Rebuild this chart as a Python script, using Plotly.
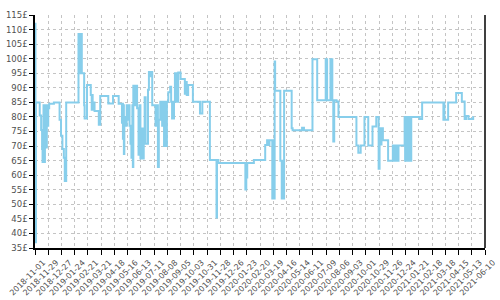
import plotly.graph_objects as go

dates = [
    "2018-11-01", "2018-11-02", "2018-11-03", "2018-11-11", "2018-11-14", "2018-11-16", "2018-11-17",
    "2018-11-19", "2018-11-20", "2018-11-22", "2018-11-23", "2018-11-24", "2018-11-25", "2018-11-26",
    "2018-11-28", "2018-11-29", "2018-12-01", "2018-12-11", "2018-12-23", "2018-12-26", "2018-12-29",
    "2019-01-01", "2019-01-03", "2019-01-06", "2019-02-01", "2019-02-02", "2019-02-03", "2019-02-05",
    "2019-02-06", "2019-02-08", "2019-02-13", "2019-02-14", "2019-02-19", "2019-02-27", "2019-03-01",
    "2019-03-02", "2019-03-03", "2019-03-05", "2019-03-07", "2019-03-16", "2019-03-19", "2019-04-05",
    "2019-04-15", "2019-04-27", "2019-05-04", "2019-05-05", "2019-05-06", "2019-05-07", "2019-05-08",
    "2019-05-09", "2019-05-11", "2019-05-14", "2019-05-16", "2019-05-18", "2019-05-20", "2019-05-22",
    "2019-05-24", "2019-05-26", "2019-05-27", "2019-05-28", "2019-05-31", "2019-06-02", "2019-06-05",
    "2019-06-08", "2019-06-10", "2019-06-12", "2019-06-14", "2019-06-17", "2019-06-19", "2019-06-21",
    "2019-06-23", "2019-06-28", "2019-06-30", "2019-07-03", "2019-07-05", "2019-07-07", "2019-07-14",
    "2019-07-17", "2019-07-19", "2019-07-21", "2019-07-24", "2019-07-28", "2019-07-30", "2019-08-01",
    "2019-08-03", "2019-08-05", "2019-08-07", "2019-08-10", "2019-08-14", "2019-08-16", "2019-08-18",
    "2019-08-22", "2019-08-24", "2019-08-28", "2019-08-31", "2019-09-05", "2019-09-14", "2019-09-16",
    "2019-09-18", "2019-09-21", "2019-10-01", "2019-10-16", "2019-10-21", "2019-11-06", "2019-11-20",
    "2019-11-21", "2019-11-24", "2020-01-20", "2020-01-22", "2020-01-24", "2020-02-07", "2020-03-02",
    "2020-03-06", "2020-03-09", "2020-03-11", "2020-03-17", "2020-03-19", "2020-03-20", "2020-03-22",
    "2020-03-23", "2020-04-03", "2020-04-06", "2020-04-08", "2020-04-10", "2020-04-11", "2020-04-27",
    "2020-04-29", "2020-05-19", "2020-05-23", "2020-06-10", "2020-06-20", "2020-07-08", "2020-07-11",
    "2020-07-18", "2020-07-22", "2020-07-24", "2020-07-26", "2020-07-31", "2020-08-04", "2020-09-11",
    "2020-09-15", "2020-09-20", "2020-09-28", "2020-10-06", "2020-10-15", "2020-10-23", "2020-10-28",
    "2020-10-30", "2020-11-01", "2020-11-03", "2020-11-06", "2020-11-17", "2020-11-27", "2020-11-29",
    "2020-12-01", "2020-12-03", "2020-12-05", "2020-12-07", "2020-12-09", "2020-12-22", "2020-12-23",
    "2020-12-24", "2020-12-25", "2020-12-26", "2020-12-27", "2020-12-28", "2020-12-29", "2020-12-30",
    "2020-12-31", "2021-01-01", "2021-01-02", "2021-01-03", "2021-01-04", "2021-01-05", "2021-01-23",
    "2021-01-28", "2021-03-14", "2021-03-15", "2021-03-16", "2021-03-24", "2021-04-10", "2021-04-22",
    "2021-04-28", "2021-05-01", "2021-05-06", "2021-05-16", "2021-05-17",
]

prices = [
    112, 37, 85, 80.5, 75.5, 69, 64.5,
    84, 64.5, 84, 77, 84, 69.5, 84,
    77, 83, 84.5, 85, 79, 73.5, 69,
    66, 58, 85, 108.5, 95, 108.5, 95,
    108.5, 95, 84, 79.5, 91, 87.5, 82.5,
    87.5, 82.5, 85, 82, 77.3, 87.2, 84.6,
    87.2, 84.5, 78, 84.5, 72.5, 84, 67.3,
    80, 77, 84, 79, 84, 77, 70.8,
    66, 84, 62.8, 90.7, 84, 90.7, 83,
    67, 84, 65.7, 76, 65.7, 70.8, 86.8,
    70.8, 89.3, 95.4, 94, 95.4, 84, 77,
    84, 62.8, 79, 85.2, 77, 85.2, 70,
    85.2, 70, 85.2, 88.5, 90.4, 85.2, 79.5,
    85.2, 95, 85.2, 95.3, 93, 88, 92,
    87.5, 91, 85.2, 81.2, 85.2, 65.2, 45.5,
    65.2, 64.2, 55.1, 59.2, 64.2, 65.2, 70.4,
    72, 70.4, 72, 52, 72, 52, 99,
    89, 65, 52, 65, 52, 89, 76.1,
    75.4, 76.3, 75.4, 99.8, 85.7, 99.8, 85.7,
    99.8, 85.7, 71.6, 85.7, 85.3, 80, 70.2,
    67.7, 70.2, 80, 70.2, 76.7, 80, 62.2,
    76.1, 70.5, 76.1, 72, 65, 70.2, 65,
    70.2, 65, 70.2, 65, 70.2, 80, 65,
    80, 65, 80, 65, 80, 65, 80,
    65, 80, 65, 80, 65, 80, 79.3,
    85, 79, 85, 79, 85, 88.2, 85.3,
    79.3, 80.3, 79.3, 80, 80,
]

x_start = "2018-11-01"
x_end = "2021-06-10"
y_min, y_max = 35, 115

fig = go.Figure()
fig.add_trace(go.Scatter(
    x=dates, y=prices, mode="lines",
    line=dict(shape="hv", color="#87CEEB", width=2),
    showlegend=False, hoverinfo="skip",
))

grid = dict(showgrid=True, gridcolor="#c4c4c4", gridwidth=1, griddash="3px,3px")

fig.update_layout(
    width=500, height=300,
    margin=dict(l=35, r=15, t=15, b=52),
    paper_bgcolor="white", plot_bgcolor="white",
    font=dict(family="DejaVu Sans", size=8, color="#555"),
    xaxis=dict(
        type="date", range=[x_start, x_end], automargin=False,
        tick0=x_start, dtick=28 * 86400000, tickformat="%Y-%m-%d",
        tickangle=-45, ticks="outside", ticklen=5, tickcolor="black",
        ticklabeloverflow="allow", ticklabelshift=8,
        showline=True, linecolor="black", linewidth=1.5,
        tickfont=dict(size=8, color="#505050"), zeroline=False, **grid,
    ),
    yaxis=dict(
        range=[y_min, y_max], dtick=5, tick0=35, ticksuffix="£", automargin=False,
        ticks="outside", ticklen=4, tickcolor="black",
        showline=True, linecolor="black", linewidth=1.5,
        tickfont=dict(size=8.5, color="#505050"), zeroline=False, **grid,
    ),
    shapes=[dict(type="line", xref="paper", yref="paper", x0=1, x1=1, y0=0, y1=1,
                 line=dict(color="black", width=1.5))],
)

fig.write_html("out.html")
